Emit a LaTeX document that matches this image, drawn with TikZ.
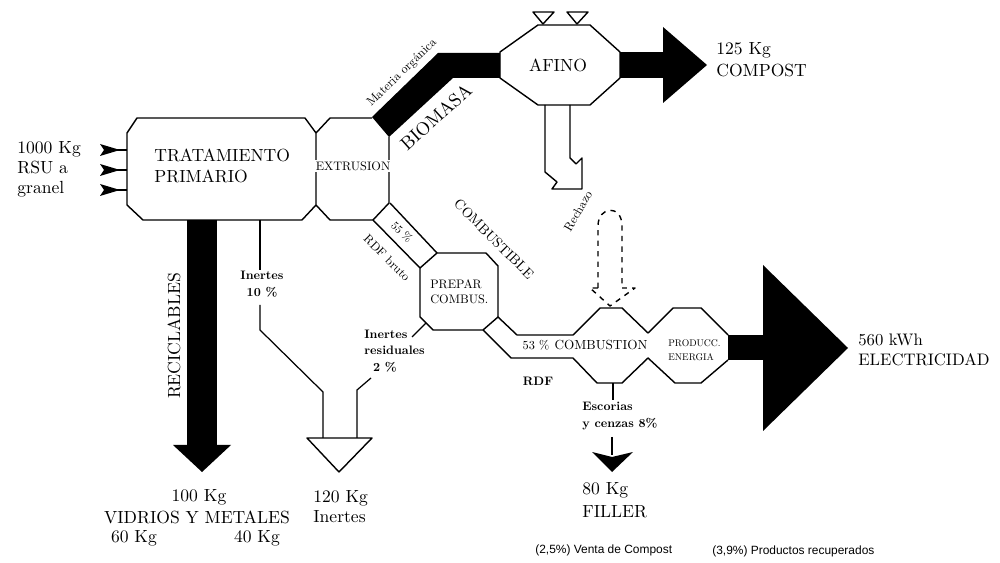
\documentclass[tikz,border=0pt]{standalone}
\usepackage{fontspec}
\setmainfont{lmroman10-regular}[Extension=.otf, BoldFont=lmroman10-bold]
\newfontfamily\notefont{Liberation Sans}
\usepackage{tikz}
\usetikzlibrary{positioning}

\begin{document}
\begin{tikzpicture}[x=0.02cm, y=-0.02cm,
  box/.style   = {line width=0.8pt, line join=round},
  pipe/.style  = {line width=0.7pt},
  flow/.style  = {fill=black},
  big/.style   = {font=\fontsize{10}{12}\selectfont, align=left, inner sep=0pt},
  small/.style = {font=\fontsize{7}{9.5}\selectfont, inner sep=0pt},
  note/.style  = {font=\notefont\fontsize{6.8}{8}\selectfont, anchor=west, inner sep=0pt},
]
  \useasboundingbox (0,0) rectangle (1000,563);

  % Tratamiento primario and extrusion
  \draw[box] (137,118) -- (305,118) -- (316,133) -- (316,205) -- (302,220)
             -- (143,220) -- (127,205) -- (127,133) -- cycle;
  \draw[box] (316,133) -- (330,118) -- (372,118)
             (389,137) -- (389,203) -- (373,220) -- (330,220) -- (316,205);
  \node[big, anchor=west] (trat) at (154,166) {TRATAMIENTO\\PRIMARIO};
  \node[small, fill=white, inner sep=1pt] (extr) at (353,166) {EXTRUSION};

  % Input
  \node[big, anchor=west, font=\fontsize{10}{11.4}\selectfont] (rsu) at (17,169) {1000 Kg\\RSU a\\granel};
  \foreach \y in {150,170,190} {
    \fill (100,\y-6) -- (120,\y) -- (100,\y+6) -- (104,\y) -- cycle;
    \draw[pipe] (116,\y) -- (127,\y);
  }

  % Biomasa band to afino
  \fill[flow] (372,117) -- (438,53) -- (500,53) -- (500,78) -- (453,78) -- (389,137) -- cycle;
  \node[small, rotate=44] (mat) at (402,73) {Materia orgánica};
  \node[big, rotate=42, font=\fontsize{10.5}{12}\selectfont] (bio) at (436,117) {BIOMASA};

  % Afino
  \draw[box] (538,25) -- (590,25) -- (620,52) -- (620,78) -- (590,105) -- (538,105)
             -- (500,78) -- (500,52) -- cycle;
  \node[big] (afino) at (558,65) {AFINO};
  \draw[box] (533,12) -- (554,12) -- (543,24) -- cycle;
  \draw[box] (567,12) -- (588,12) -- (577,24) -- cycle;
  \draw[box] (545,105) -- (545,172) -- (557,182) -- (552,189) -- (582,189)
             -- (582,158) -- (576,164) -- (570,158) -- (570,105);

  % Compost
  \fill[flow] (620,52) rectangle (664,78);
  \fill[flow] (663,27) -- (707,65) -- (663,103) -- cycle;
  \node[big, anchor=west, font=\fontsize{10}{12.5}\selectfont] (compost) at (716,60) {125 Kg\\COMPOST};

  % Reciclables
  \fill[flow] (187,220) rectangle (217,446);
  \fill[flow] (173,445) -- (231,445) -- (202,472) -- cycle;
  \node[big, rotate=90] (recic) at (174,336) {RECICLABLES};
  \node[big] (kg100) at (199,497) {100 Kg};
  \node[big] (vidrios) at (197,517) {VIDRIOS Y METALES};
  \node[big] (kg60) at (134,538) {60 Kg};
  \node[big] (kg40) at (257,538) {40 Kg};

  % Inertes
  \draw[pipe] (260,220) -- (260,270);
  \node[small, align=center, font=\fontsize{7}{9.7}\selectfont\bfseries] (in10) at (262,284) {Inertes\\10 \%};
  \draw[pipe] (260,305) -- (260,330) -- (323,392) -- (323,438);
  \draw[pipe] (357,438) -- (357,390) -- (371,378);
  \draw[box] (307,438) -- (372,438) -- (339,472) -- cycle;
  \node[big, anchor=west, font=\fontsize{10}{11.4}\selectfont] (kg120) at (313,507) {120 Kg\\Inertes};

  % RDF bruto
  \draw[box] (390,203) -- (437,253);
  \draw[box] (373,220) -- (420,268);
  \node[small, rotate=-45, font=\fontsize{6.5}{8}\selectfont] (p55) at (402,232) {55 \%};
  \node[small, rotate=-45] (rdfb) at (387,258) {RDF bruto};
  \node[small, rotate=-45, font=\fontsize{8}{9}\selectfont] (combust) at (494,239) {COMBUSTIBLE};

  % Prepar combus
  \draw[box] (437,253) -- (486,253) -- (498,266) -- (498,317) -- (483,330)
             -- (433,330) -- (420,317) -- (420,268) -- cycle;
  \node[small, anchor=west, align=left, font=\fontsize{7}{8.5}\selectfont] (prep) at (430,292) {PREPAR\\COMBUS.};
  \draw[pipe] (426,323) -- (412,337);
  \node[small, anchor=west, align=left, font=\fontsize{7}{9.3}\selectfont\bfseries] (inres) at (364,351) {Inertes\\residuales\\\hspace{5pt}2 \%};

  % Combustion and energia
  \draw[box] (498,317) -- (517,335) -- (573,335) -- (600,308) -- (622,308) -- (648,333)
             -- (673,308) -- (701,308) -- (728,335);
  \draw[box] (483,330) -- (511,358) -- (573,358) -- (597,383) -- (622,383) -- (648,358)
             -- (675,383) -- (701,383) -- (728,360);
  \node[small] (p53) at (536,345) {53 \%};
  \node[small, font=\fontsize{7.5}{9}\selectfont] (comb) at (601,345) {COMBUSTION};
  \node[small, anchor=west, align=left, font=\fontsize{5.5}{8}\selectfont] (energ) at (668,350) {PRODUCC.\\ENERGIA};
  \node[small, font=\fontsize{7}{9}\selectfont\bfseries] (rdf) at (538,381) {RDF};

  % Rechazo
  \draw[box, dashed] (598,288) -- (598,226) .. controls (598,206) and (622,204) .. (622,226) -- (622,288);
  \draw[box, dashed] (598,288) -- (590,288) -- (610,306) -- (635,288) -- (622,288);
  \node[small, rotate=60] (rech) at (578,211) {Rechazo};

  % Electricidad
  \fill[flow] (728,335) rectangle (764,360);
  \fill[flow] (763,265) -- (848,348) -- (763,431) -- cycle;
  \node[big, anchor=west, font=\fontsize{9.5}{11}\selectfont] (elec) at (858,350) {560 kWh\\ELECTRICIDAD};

  % Escorias
  \draw[pipe] (613,383) -- (613,400);
  \node[small, anchor=west, align=left, font=\fontsize{7}{9.7}\selectfont\bfseries] (esc) at (582,416) {Escorias\\y cenzas 8\%};
  \draw[pipe] (612,437) -- (612,455);
  \fill[flow] (592,452) -- (612,457) -- (633,452) -- (612,472) -- cycle;
  \node[big, anchor=west, font=\fontsize{10}{13}\selectfont] (filler) at (582,500) {80 Kg\\FILLER};

  % Notes
  \node[note] (n1) at (535,550) {(2,5\%) Venta de Compost};
  \node[note] (n2) at (712,551) {(3,9\%) Productos recuperados};
\end{tikzpicture}
\end{document}
